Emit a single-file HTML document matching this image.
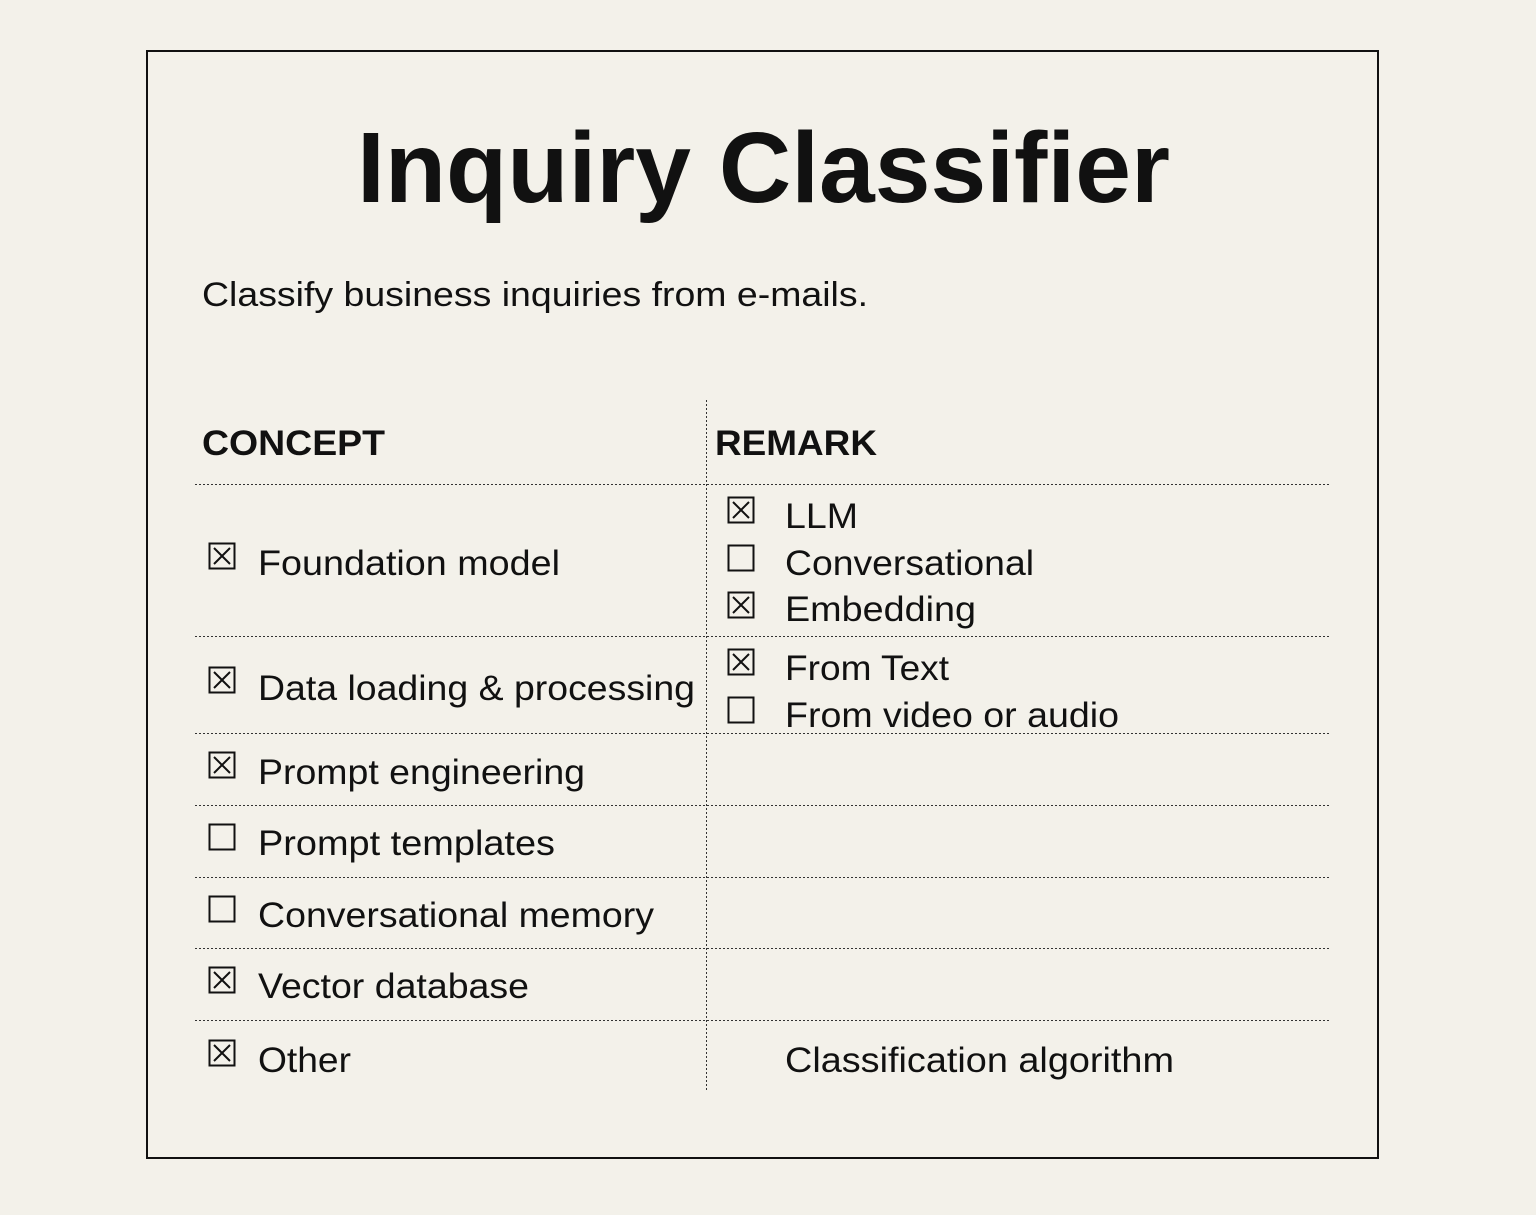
<!DOCTYPE html>
<html><head><meta charset="utf-8"><style>
html,body{margin:0;padding:0;background:#f3f1ea;}
svg{display:block;}
text{font-family:"Liberation Sans",Arial,sans-serif;fill:#111;}
</style></head><body>
<svg width="1536" height="1215" viewBox="0 0 1536 1215" xmlns="http://www.w3.org/2000/svg">
<defs>
<g id="cb"><rect x="0.5" y="0.5" width="25" height="25" fill="none" stroke="#111" stroke-width="2"/></g>
<g id="cx"><rect x="0.5" y="0.5" width="25" height="25" fill="none" stroke="#111" stroke-width="2"/><path d="M5 5 L21 21 M21 5 L5 21" stroke="#111" stroke-width="2"/></g>
</defs>
<rect width="1536" height="1215" fill="#f3f1ea"/>
<rect x="147" y="51" width="1231" height="1107" fill="none" stroke="#111" stroke-width="2"/>
<text x="357" y="202" font-size="100" font-weight="bold" textLength="813" lengthAdjust="spacingAndGlyphs">Inquiry Classifier</text>
<text x="202" y="306" font-size="34" textLength="666" lengthAdjust="spacingAndGlyphs">Classify business inquiries from e-mails.</text>
<text x="202" y="455" font-size="35" font-weight="bold" textLength="183" lengthAdjust="spacingAndGlyphs">CONCEPT</text>
<text x="715" y="455" font-size="35" font-weight="bold" textLength="162" lengthAdjust="spacingAndGlyphs">REMARK</text>
<g stroke="#333" stroke-width="1" stroke-dasharray="2,2">
<line x1="195" y1="484.5" x2="1330" y2="484.5"/>
<line x1="195" y1="636.5" x2="1330" y2="636.5"/>
<line x1="195" y1="733.5" x2="1330" y2="733.5"/>
<line x1="195" y1="805.5" x2="1330" y2="805.5"/>
<line x1="195" y1="877.5" x2="1330" y2="877.5"/>
<line x1="195" y1="948.5" x2="1330" y2="948.5"/>
<line x1="195" y1="1020.5" x2="1330" y2="1020.5"/>
<line x1="706.5" y1="400" x2="706.5" y2="1092"/>
</g>
<use href="#cx" x="209" y="543"/>
<use href="#cx" x="209" y="667"/>
<use href="#cx" x="209" y="752"/>
<use href="#cb" x="209" y="824"/>
<use href="#cb" x="209" y="896"/>
<use href="#cx" x="209" y="967"/>
<use href="#cx" x="209" y="1040"/>
<use href="#cx" x="728" y="497"/>
<use href="#cb" x="728" y="545"/>
<use href="#cx" x="728" y="592"/>
<use href="#cx" x="728" y="649"/>
<use href="#cb" x="728" y="697"/>
<g font-size="35">
<text x="258" y="575" textLength="302" lengthAdjust="spacingAndGlyphs">Foundation model</text>
<text x="258" y="700" textLength="437" lengthAdjust="spacingAndGlyphs">Data loading &amp; processing</text>
<text x="258" y="784" textLength="327" lengthAdjust="spacingAndGlyphs">Prompt engineering</text>
<text x="258" y="855" textLength="297" lengthAdjust="spacingAndGlyphs">Prompt templates</text>
<text x="258" y="927" textLength="396" lengthAdjust="spacingAndGlyphs">Conversational memory</text>
<text x="258" y="998" textLength="271" lengthAdjust="spacingAndGlyphs">Vector database</text>
<text x="258" y="1072" textLength="93" lengthAdjust="spacingAndGlyphs">Other</text>
<text x="785" y="528" textLength="73" lengthAdjust="spacingAndGlyphs">LLM</text>
<text x="785" y="575" textLength="249" lengthAdjust="spacingAndGlyphs">Conversational</text>
<text x="785" y="621" textLength="191" lengthAdjust="spacingAndGlyphs">Embedding</text>
<text x="785" y="680" textLength="164" lengthAdjust="spacingAndGlyphs">From Text</text>
<text x="785" y="727" textLength="334" lengthAdjust="spacingAndGlyphs">From video or audio</text>
<text x="785" y="1072" textLength="389" lengthAdjust="spacingAndGlyphs">Classification algorithm</text>
</g>
</svg>
</body></html>
